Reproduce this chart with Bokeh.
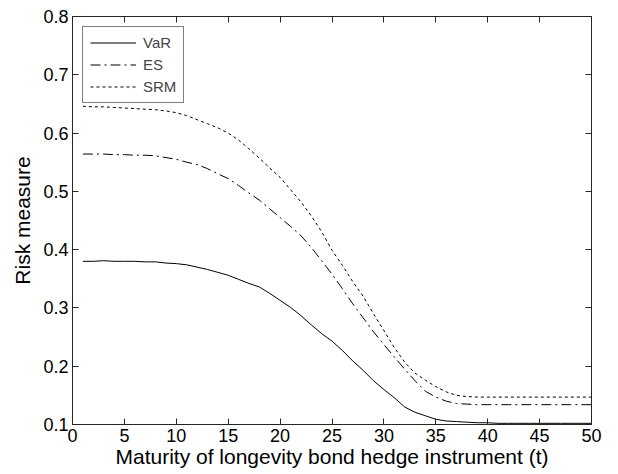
from bokeh.plotting import figure
from bokeh.models import LinearAxis, Range1d, FixedTicker, Legend, LegendItem
from bokeh.embed import file_html
from bokeh.resources import INLINE

x = list(range(1, 51))
var = [0.380, 0.380, 0.381, 0.380, 0.380, 0.380, 0.379, 0.379, 0.377, 0.376,
       0.374, 0.370, 0.366, 0.361, 0.356, 0.349, 0.342, 0.336, 0.325, 0.313,
       0.301, 0.287, 0.271, 0.256, 0.243, 0.227, 0.209, 0.193, 0.175, 0.160,
       0.146, 0.130, 0.121, 0.115, 0.109, 0.106, 0.105, 0.104, 0.103, 0.103,
       0.102, 0.102, 0.102, 0.102, 0.102, 0.102, 0.102, 0.102, 0.102, 0.102]
es = [0.564, 0.564, 0.564, 0.563, 0.563, 0.562, 0.562, 0.561, 0.558, 0.555,
      0.550, 0.546, 0.539, 0.530, 0.522, 0.510, 0.497, 0.485, 0.470, 0.455,
      0.440, 0.424, 0.404, 0.381, 0.358, 0.333, 0.307, 0.283, 0.259, 0.237,
      0.216, 0.195, 0.175, 0.157, 0.147, 0.140, 0.136, 0.135, 0.134, 0.134,
      0.134, 0.134, 0.134, 0.134, 0.134, 0.134, 0.134, 0.134, 0.134, 0.134]
srm = [0.646, 0.645, 0.645, 0.644, 0.643, 0.642, 0.641, 0.640, 0.638, 0.635,
       0.630, 0.623, 0.616, 0.609, 0.600, 0.588, 0.573, 0.557, 0.540, 0.524,
       0.503, 0.482, 0.458, 0.431, 0.399, 0.373, 0.345, 0.320, 0.290, 0.261,
       0.232, 0.207, 0.188, 0.176, 0.165, 0.156, 0.150, 0.148, 0.147, 0.147,
       0.147, 0.147, 0.147, 0.147, 0.147, 0.147, 0.147, 0.147, 0.147, 0.147]

xticks = [0, 5, 10, 15, 20, 25, 30, 35, 40, 45, 50]
yticks = [0.1, 0.2, 0.3, 0.4, 0.5, 0.6, 0.7, 0.8]

FONT = "Liberation Sans"
AX = "#262626"

p = figure(frame_width=519, frame_height=408,
           x_range=Range1d(0, 50), y_range=Range1d(0.1, 0.8),
           output_backend="svg", toolbar_location=None,
           min_border_left=72, min_border_right=27,
           min_border_top=16, min_border_bottom=50,
           x_axis_label="Maturity of longevity bond hedge instrument (t)",
           y_axis_label="Risk measure")
p.grid.visible = False
p.outline_line_color = AX
p.outline_line_width = 1

for ax in [p.xaxis[0], p.yaxis[0]]:
    ax.major_tick_in = 6
    ax.major_tick_out = 0
    ax.minor_tick_in = 0
    ax.minor_tick_out = 0
    ax.axis_line_color = AX
    ax.major_tick_line_color = AX
    ax.major_label_text_font = FONT
    ax.major_label_text_font_size = "18px"
    ax.major_label_text_color = "black"
    ax.axis_label_text_font = FONT
    ax.axis_label_text_font_size = "21px"
    ax.axis_label_text_font_style = "normal"
    ax.axis_label_text_color = "black"

p.xaxis[0].ticker = FixedTicker(ticks=xticks)
p.yaxis[0].ticker = FixedTicker(ticks=yticks)
p.xaxis[0].major_label_standoff = 4
p.xaxis[0].axis_label_standoff = 0
p.yaxis[0].major_label_standoff = 4
p.yaxis[0].axis_label_standoff = 6

top = LinearAxis(ticker=FixedTicker(ticks=xticks),
                 major_label_overrides={t: "" for t in xticks},
                 major_tick_in=6, major_tick_out=0, minor_tick_in=0, minor_tick_out=0,
                 axis_line_color=AX, major_tick_line_color=AX, major_label_standoff=0)
right = LinearAxis(ticker=FixedTicker(ticks=yticks),
                   major_label_overrides={t: "" for t in yticks},
                   major_tick_in=6, major_tick_out=0, minor_tick_in=0, minor_tick_out=0,
                   axis_line_color=AX, major_tick_line_color=AX, major_label_standoff=0)
p.add_layout(top, "above")
p.add_layout(right, "right")

r1 = p.line(x, var, line_color="black", line_width=1)
r2 = p.line(x, es, line_color="black", line_width=1, line_dash="10 4 2 4")
r3 = p.line(x, srm, line_color="black", line_width=1, line_dash="3 3")

legend = Legend(items=[LegendItem(label="VaR", renderers=[r1]),
                       LegendItem(label="ES", renderers=[r2]),
                       LegendItem(label="SRM", renderers=[r3])],
                location="top_left", margin=10, padding=7, spacing=5,
                glyph_width=46, glyph_height=17, label_standoff=7,
                label_text_font=FONT, label_text_font_size="15px",
                border_line_color="black", border_line_width=1,
                background_fill_color="white", background_fill_alpha=1)
p.add_layout(legend, "center")

open("out.html", "w").write(file_html(p, INLINE))
